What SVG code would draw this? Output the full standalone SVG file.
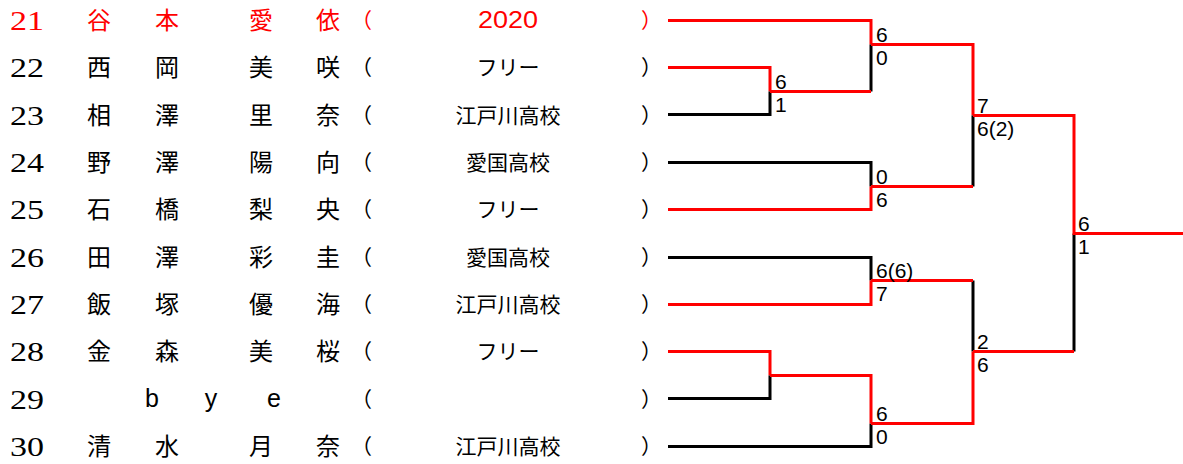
<svg xmlns="http://www.w3.org/2000/svg" width="1183" height="464" viewBox="0 0 1183 464">
<style>
.num{font-family:"Liberation Serif",serif;font-size:28px}
.nm{font-family:"Noto Sans CJK JP",sans-serif;font-size:24px;text-anchor:middle}
.club{font-family:"Noto Sans CJK JP",sans-serif;font-size:21px;text-anchor:middle}
.yr{font-family:"Liberation Sans",sans-serif;font-size:23px;text-anchor:middle}
.par{font-family:"Noto Sans CJK JP",sans-serif;font-size:21px}
.bye{font-family:"Liberation Sans",sans-serif;font-size:25px;text-anchor:middle}
.sc{font-family:"Liberation Sans",sans-serif;font-size:21px;fill:#000}
.red{fill:#ff0000}
.blk{fill:#000}
.r{stroke:#ff0000;stroke-width:3;fill:none}
.b{stroke:#000;stroke-width:3;fill:none}
</style>
<g id="p21" class="red">
<text class="num" x="10" y="30" textLength="34" lengthAdjust="spacingAndGlyphs">21</text>
<text class="nm" x="99" y="29">谷</text><text class="nm" x="167" y="29">本</text><text class="nm" x="261" y="29">愛</text><text class="nm" x="328" y="29">依</text>
<text class="par" x="351" y="28">（</text><text class="yr" x="508" y="28" textLength="60" lengthAdjust="spacingAndGlyphs">2020</text><text class="par" x="641" y="28">）</text>
</g>
<g id="p22" class="blk">
<text class="num" x="10" y="77" textLength="34" lengthAdjust="spacingAndGlyphs">22</text>
<text class="nm" x="99" y="76">西</text><text class="nm" x="167" y="76">岡</text><text class="nm" x="261" y="76">美</text><text class="nm" x="328" y="76">咲</text>
<text class="par" x="351" y="75">（</text><text class="club" x="508" y="75">フリー</text><text class="par" x="641" y="75">）</text>
</g>
<g id="p23" class="blk">
<text class="num" x="10" y="125" textLength="34" lengthAdjust="spacingAndGlyphs">23</text>
<text class="nm" x="99" y="124">相</text><text class="nm" x="167" y="124">澤</text><text class="nm" x="261" y="124">里</text><text class="nm" x="328" y="124">奈</text>
<text class="par" x="351" y="123">（</text><text class="club" x="508" y="123">江戸川高校</text><text class="par" x="641" y="123">）</text>
</g>
<g id="p24" class="blk">
<text class="num" x="10" y="172" textLength="34" lengthAdjust="spacingAndGlyphs">24</text>
<text class="nm" x="99" y="171">野</text><text class="nm" x="167" y="171">澤</text><text class="nm" x="261" y="171">陽</text><text class="nm" x="328" y="171">向</text>
<text class="par" x="351" y="170">（</text><text class="club" x="508" y="170">愛国高校</text><text class="par" x="641" y="170">）</text>
</g>
<g id="p25" class="blk">
<text class="num" x="10" y="219" textLength="34" lengthAdjust="spacingAndGlyphs">25</text>
<text class="nm" x="99" y="218">石</text><text class="nm" x="167" y="218">橋</text><text class="nm" x="261" y="218">梨</text><text class="nm" x="328" y="218">央</text>
<text class="par" x="351" y="217">（</text><text class="club" x="508" y="217">フリー</text><text class="par" x="641" y="217">）</text>
</g>
<g id="p26" class="blk">
<text class="num" x="10" y="267" textLength="34" lengthAdjust="spacingAndGlyphs">26</text>
<text class="nm" x="99" y="266">田</text><text class="nm" x="167" y="266">澤</text><text class="nm" x="261" y="266">彩</text><text class="nm" x="328" y="266">圭</text>
<text class="par" x="351" y="265">（</text><text class="club" x="508" y="265">愛国高校</text><text class="par" x="641" y="265">）</text>
</g>
<g id="p27" class="blk">
<text class="num" x="10" y="314" textLength="34" lengthAdjust="spacingAndGlyphs">27</text>
<text class="nm" x="99" y="313">飯</text><text class="nm" x="167" y="313">塚</text><text class="nm" x="261" y="313">優</text><text class="nm" x="328" y="313">海</text>
<text class="par" x="351" y="312">（</text><text class="club" x="508" y="312">江戸川高校</text><text class="par" x="641" y="312">）</text>
</g>
<g id="p28" class="blk">
<text class="num" x="10" y="361" textLength="34" lengthAdjust="spacingAndGlyphs">28</text>
<text class="nm" x="99" y="360">金</text><text class="nm" x="167" y="360">森</text><text class="nm" x="261" y="360">美</text><text class="nm" x="328" y="360">桜</text>
<text class="par" x="351" y="359">（</text><text class="club" x="508" y="359">フリー</text><text class="par" x="641" y="359">）</text>
</g>
<g id="p29" class="blk">
<text class="num" x="10" y="409" textLength="34" lengthAdjust="spacingAndGlyphs">29</text>
<text class="bye" x="152 211 274" y="407">bye</text>
<text class="par" x="351" y="407">（</text><text class="par" x="641" y="407">）</text>
</g>
<g id="p30" class="blk">
<text class="num" x="10" y="456" textLength="34" lengthAdjust="spacingAndGlyphs">30</text>
<text class="nm" x="99" y="455">清</text><text class="nm" x="167" y="455">水</text><text class="nm" x="261" y="455">月</text><text class="nm" x="328" y="455">奈</text>
<text class="par" x="351" y="454">（</text><text class="club" x="508" y="454">江戸川高校</text><text class="par" x="641" y="454">）</text>
</g>
<g id="connectors">
<path class="r" d="M668 20.5H871V44.5"/>
<path class="r" d="M668 67.5H770V91.5"/>
<path class="b" d="M668 114.5H770V91.5"/>
<path class="b" d="M668 162.5H871V186.5"/>
<path class="r" d="M668 209.5H871V186.5"/>
<path class="b" d="M668 257.5H871V280.5"/>
<path class="r" d="M668 304.5H871V280.5"/>
<path class="r" d="M668 351.5H770V375.5"/>
<path class="b" d="M668 398.5H770V375.5"/>
<path class="b" d="M668 446.5H871V423.5"/>
<path class="b" d="M871 91.5V44.5"/>
<path class="r" d="M770 91.5H871"/>
<path class="r" d="M871 44.5H973V115.5"/>
<path class="b" d="M973 186.5V115.5"/>
<path class="r" d="M871 186.5H973"/>
<path class="r" d="M770 375.5H871V423.5"/>
<path class="b" d="M973 280.5V351.5"/>
<path class="r" d="M871 280.5H973"/>
<path class="r" d="M871 423.5H973V351.5"/>
<path class="b" d="M1074 351.5V233.5"/>
<path class="r" d="M973 351.5H1074"/>
<path class="r" d="M973 115.5H1074V233.5H1183"/>
</g>
<g id="scores">
<text class="sc" x="775" y="89">6</text><text class="sc" x="775" y="112">1</text>
<text class="sc" x="876" y="42">6</text><text class="sc" x="876" y="65">0</text>
<text class="sc" x="876" y="184">0</text><text class="sc" x="876" y="207">6</text>
<text class="sc" x="977" y="113">7</text><text class="sc" x="977" y="136">6(2)</text>
<text class="sc" x="876" y="278">6(6)</text><text class="sc" x="876" y="301">7</text>
<text class="sc" x="876" y="421">6</text><text class="sc" x="876" y="444">0</text>
<text class="sc" x="977" y="349">2</text><text class="sc" x="977" y="372">6</text>
<text class="sc" x="1078" y="231">6</text><text class="sc" x="1078" y="254">1</text>
</g>
</svg>
